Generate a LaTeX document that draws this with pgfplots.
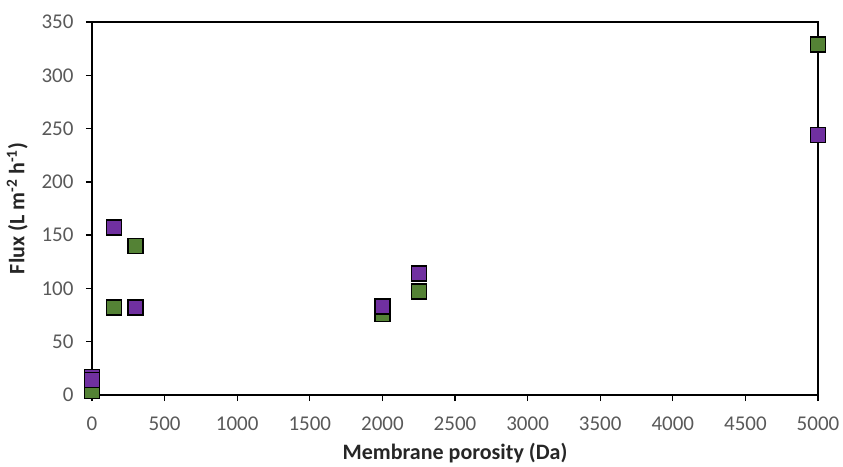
\documentclass[border=0pt]{standalone}
\usepackage{pgfplots}
\pgfplotsset{compat=1.18}
\usepackage{fontspec}
\setmainfont{Carlito}
\definecolor{ggreen}{HTML}{548235}
\definecolor{gpurple}{HTML}{7030A0}
\definecolor{tickgrey}{HTML}{595959}
\begin{document}
\begin{tikzpicture}
\begin{axis}[
  scale only axis,
  width=726bp, height=373bp,
  xmin=0, xmax=5000, ymin=0, ymax=350,
  xtick={0,500,...,5000}, ytick={0,50,...,350},
  tick align=outside, tick pos=left,
  major tick length=6bp,
  axis line style={black, line width=1.3bp},
  every tick/.style={black, line width=1.3bp},
  tick label style={font=\fontsize{21bp}{23bp}\selectfont, text=tickgrey},
  xticklabel style={yshift=-12bp},
  yticklabel style={xshift=-9bp},
  /pgf/number format/assume math mode=true,
  scaled ticks=false,
  /pgf/number format/1000 sep={},
  xlabel={\textbf{Membrane porosity (Da)}},
  ylabel={\textbf{Flux (L m\textsuperscript{-2} h\textsuperscript{-1})}},
  label style={font=\fontsize{22bp}{24bp}\selectfont, text=black!85},
  xlabel style={yshift=-6bp},
  ylabel style={yshift=7bp},
  clip=false,
]
\addplot[only marks, mark=square*, mark size=7.5bp, mark options={fill=ggreen, draw=black, line width=1.4bp}]
coordinates {(0,4) (150,82) (300,140) (2000,76) (2250,97) (5000,329)};
\addplot[only marks, mark=square*, mark size=7.5bp, mark options={fill=gpurple, draw=black, line width=1.4bp}]
coordinates {(0,17) (0,14) (150,157) (300,82) (2000,83) (2250,114) (5000,244)};
\end{axis}
\pgfresetboundingbox
\path ([xshift=-92bp,yshift=-72bp]current axis.south west) rectangle ([xshift=25bp,yshift=22bp]current axis.north east);
\end{tikzpicture}
\end{document}
